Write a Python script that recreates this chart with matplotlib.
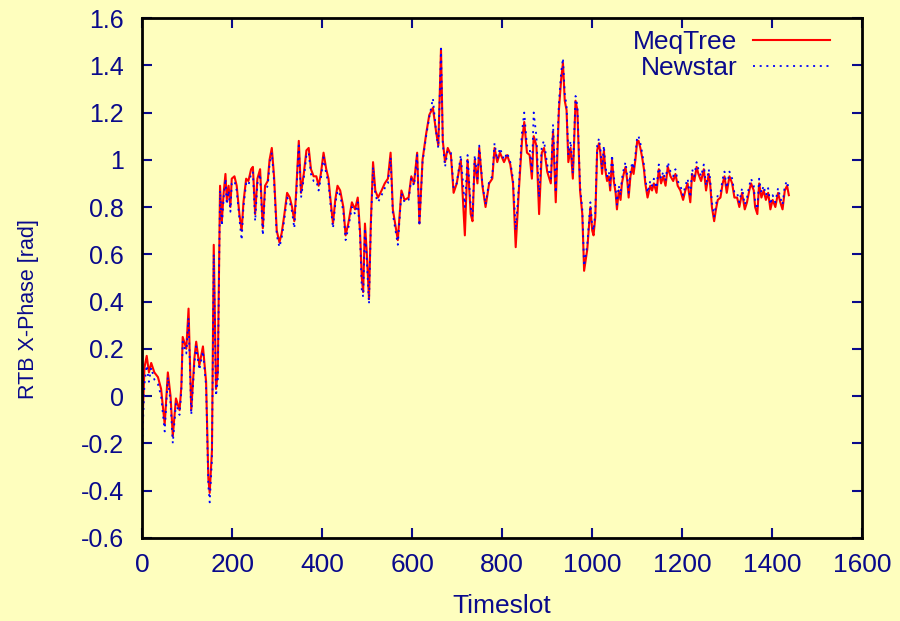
import matplotlib
matplotlib.use("Agg")
import matplotlib.pyplot as plt
from matplotlib.ticker import FormatStrFormatter

# values (timeslot, phase in rad)
timeslot = [0, 5, 10, 15, 20, 27, 35, 42, 50, 57, 63, 68, 75, 83, 87, 90, 98, 103, 109, 116,
            120, 127, 135, 142, 147, 150, 155, 159, 164, 168,
            173, 177, 181, 185, 188, 192, 196, 199, 205, 210, 216, 221, 225, 231, 236, 242, 246,
            251, 256, 262, 268, 273, 279, 283, 288, 293, 299, 305, 310, 316, 322, 328, 333, 338,
            342, 348, 353, 359, 365, 370, 375, 381, 387, 392, 397, 403, 409, 414, 419, 424, 429, 434,
            440, 447, 452, 458, 466, 473, 479, 484, 488, 491, 495, 499, 504, 508, 513, 518, 524,
            532, 539, 546, 552, 557, 562, 568, 576, 583, 592, 598, 604, 611, 616, 623, 631, 638,
            646, 653, 658, 664, 668, 673, 679, 686, 692, 699, 708, 717, 723, 730, 734, 739, 745,
            749, 756, 763, 771, 778, 783, 789, 795, 804, 811, 818, 824, 830, 837, 844, 849, 855,
            861, 866, 870, 876, 882, 888, 893, 900, 908, 913, 919, 926, 931, 935, 939, 943, 947,
            952, 957, 963, 967, 973, 978, 982, 989,
            996, 1000, 1003, 1007, 1011, 1015, 1018, 1022, 1026, 1029, 1033, 1037, 1040, 1044,
            1048, 1052, 1055, 1059, 1063, 1066, 1070, 1074, 1078, 1081, 1085, 1089, 1092, 1096,
            1100, 1103, 1107, 1111, 1115, 1118, 1123, 1129, 1133, 1137, 1143, 1148, 1153, 1158,
            1163, 1168, 1174, 1180, 1185, 1190, 1196, 1202, 1207, 1212, 1218, 1222, 1227, 1232,
            1236, 1242, 1248, 1253, 1259, 1262, 1266, 1271, 1275, 1279, 1285, 1290, 1294, 1299,
            1305, 1311, 1316, 1322, 1327, 1333, 1339, 1344, 1349, 1353, 1359, 1362, 1367, 1371,
            1376, 1381, 1386, 1391, 1396, 1401, 1407, 1413, 1418, 1423, 1428, 1433, 1437]

meqtree = [-0.15, 0.12, 0.17, 0.1, 0.14, 0.1, 0.08, 0.03, -0.12, 0.1, 0.0, -0.17, -0.01, -0.06, 0.04,
           0.25, 0.2, 0.37, -0.06, 0.16, 0.23, 0.13, 0.21, 0.06, -0.35, -0.41, -0.23, 0.64, 0.03, 0.1,
           0.89, 0.74, 0.86, 0.94, 0.83, 0.89, 0.8, 0.92, 0.93, 0.89, 0.77, 0.7, 0.82, 0.92, 0.91,
           0.96, 0.97, 0.77, 0.92, 0.96, 0.71, 0.89, 0.91, 1.0, 1.05, 0.93, 0.7, 0.65, 0.69, 0.77,
           0.86, 0.84, 0.8, 0.74, 0.86, 1.08, 0.86, 0.94, 1.04, 1.05, 0.96, 0.93, 0.93, 0.89, 0.94,
           1.03, 0.96, 0.92, 0.82, 0.73, 0.83, 0.89,
           0.87, 0.8, 0.68, 0.73, 0.82, 0.79, 0.84, 0.7, 0.5, 0.44, 0.73, 0.61, 0.41, 0.73, 0.99,
           0.87, 0.84, 0.87, 0.9, 0.92, 1.03, 0.79, 0.73, 0.66, 0.87, 0.83, 0.84, 0.93, 0.9, 1.03,
           0.73, 1.0, 1.11, 1.19, 1.22, 1.12, 1.06, 1.47, 1.08, 0.99, 1.05, 1.02, 0.86, 0.9, 1.0,
           0.68, 1.0, 0.77, 0.74, 1.0, 0.9, 1.05, 0.89, 0.8, 0.9, 0.92, 1.05, 0.99, 1.03, 0.99,
           1.02, 0.98, 0.9, 0.63, 0.87, 1.08, 1.16, 1.03, 1.02, 0.92, 1.1, 1.06, 0.77, 1.03, 1.05,
           0.95, 0.9, 1.12, 0.82, 1.21, 1.34, 1.41, 1.25, 1.21, 0.99, 1.05, 0.92, 1.25, 1.21, 0.87,
           0.77, 0.53, 0.62,
           0.8, 0.7, 0.68, 0.76, 1.04, 1.07, 1.03, 0.94, 1.04, 0.96, 0.91, 0.93, 0.87, 1.0, 0.91,
           0.86, 0.79, 0.87, 0.83, 0.9, 0.94, 0.97, 0.91, 0.84, 0.93, 0.97, 0.94, 1.0, 1.08, 1.08,
           1.05, 1.01, 0.96, 0.9, 0.84, 0.89, 0.87, 0.9, 0.86, 0.96, 0.9, 0.93, 0.89, 0.97, 0.93,
           0.91, 0.94, 0.89, 0.87, 0.83, 0.87, 0.9, 0.82, 0.94, 0.91, 0.97, 0.94, 0.91, 0.96, 0.87,
           0.94, 0.9, 0.8, 0.74, 0.79, 0.83, 0.84, 0.9, 0.93, 0.86, 0.93, 0.9, 0.84, 0.84, 0.8,
           0.86, 0.79, 0.82, 0.87, 0.9, 0.87, 0.8, 0.77, 0.9, 0.84, 0.87, 0.83, 0.86, 0.79, 0.83,
           0.8, 0.86, 0.82, 0.79, 0.87, 0.89, 0.85]

newstar = [-0.2, 0.05, 0.13, 0.06, 0.12, 0.07, 0.05, 0.0, -0.15, 0.08, -0.03, -0.2, -0.03, -0.08, 0.02,
           0.23, 0.18, 0.33, -0.08, 0.14, 0.21, 0.11, 0.19, 0.04, -0.38, -0.45, -0.27, 0.6, 0.0, 0.07,
           0.87, 0.72, 0.84, 0.92, 0.81, 0.87, 0.78, 0.9, 0.91, 0.87, 0.75, 0.66, 0.8, 0.9, 0.89,
           0.94, 0.95, 0.74, 0.9, 0.94, 0.68, 0.87, 0.89, 0.98, 1.03, 0.91, 0.68, 0.63, 0.67, 0.75,
           0.84, 0.82, 0.78, 0.71, 0.84, 1.06, 0.84, 0.92, 1.02, 1.03, 0.94, 0.91, 0.91, 0.87, 0.92,
           1.01, 0.94, 0.9, 0.8, 0.71, 0.81, 0.87,
           0.85, 0.78, 0.66, 0.71, 0.8, 0.77, 0.82, 0.68, 0.45, 0.42, 0.71, 0.58, 0.39, 0.71, 0.97,
           0.85, 0.82, 0.85, 0.88, 0.9, 1.01, 0.77, 0.71, 0.64, 0.86, 0.82, 0.83, 0.92, 0.89, 1.02,
           0.72, 0.99, 1.1, 1.18, 1.26, 1.12, 1.05, 1.47, 1.07, 0.97, 1.04, 1.03, 0.88, 0.9, 1.02,
           0.8, 1.02, 0.8, 0.76, 1.02, 0.92, 1.06, 0.9, 0.81, 0.91, 0.93, 1.07, 1.0, 1.05, 1.0,
           1.03, 0.99, 0.92, 0.7, 0.89, 1.12, 1.2, 1.06, 1.05, 0.95, 1.2, 1.1, 0.84, 1.06, 1.08,
           0.98, 0.92, 1.15, 0.86, 1.24, 1.37, 1.43, 1.28, 1.23, 1.02, 1.08, 0.94, 1.27, 1.23, 0.89,
           0.79, 0.55, 0.64,
           0.82, 0.72, 0.7, 0.78, 1.06, 1.09, 1.05, 0.96, 1.06, 0.98, 0.93, 0.95, 0.89, 1.02, 0.93,
           0.88, 0.81, 0.89, 0.85, 0.92, 0.96, 0.99, 0.93, 0.86, 0.95, 0.99, 0.96, 1.02, 1.1, 1.1,
           1.07, 1.03, 0.98, 0.92, 0.86, 0.91, 0.89, 0.92, 0.88, 0.98, 0.92, 0.95, 0.91, 0.99, 0.95,
           0.93, 0.96, 0.91, 0.89, 0.85, 0.89, 0.92, 0.84, 0.96, 0.93, 0.99, 0.96, 0.93, 0.98, 0.89,
           0.96, 0.92, 0.82, 0.76, 0.81, 0.85, 0.86, 0.92, 0.95, 0.88, 0.95, 0.92, 0.86, 0.86, 0.82,
           0.88, 0.81, 0.84, 0.89, 0.92, 0.89, 0.82, 0.79, 0.92, 0.86, 0.89, 0.85, 0.88, 0.81, 0.85,
           0.82, 0.88, 0.84, 0.81, 0.89, 0.91, 0.87]

x_ticks = [0, 200, 400, 600, 800, 1000, 1200, 1400, 1600]
y_ticks = [-0.6, -0.4, -0.2, 0, 0.2, 0.4, 0.6, 0.8, 1, 1.2, 1.4, 1.6]

bg = '#fefebe'
navy = '#0a0a8c'

plt.rcParams['font.family'] = ['Liberation Sans', 'DejaVu Sans']
plt.rcParams['axes.unicode_minus'] = False

fig = plt.figure(figsize=(9, 6.21), dpi=100, facecolor=bg)
ax = fig.add_axes([0.158, 0.134, 0.8, 0.837], facecolor=bg)

ax.plot(timeslot, meqtree, color='#ff0000', lw=1.5, label='MeqTree')
ax.plot(timeslot, newstar, color='#0000ff', lw=1.3, linestyle=(0, (1.1, 2.6)), label='Newstar')

ax.set_xlim(0, 1600)
ax.set_ylim(-0.6, 1.6)
ax.set_xticks(x_ticks)
ax.set_yticks(y_ticks)
ax.yaxis.set_major_formatter(FormatStrFormatter('%g'))

ax.tick_params(direction='in', length=7, width=1.5, color=navy, labelcolor=navy,
               top=True, right=True)
ax.tick_params(axis='x', labelsize=19, pad=11)
ax.tick_params(axis='y', labelsize=18, pad=13)
for s in ax.spines.values():
    s.set_linewidth(2)
    s.set_color('black')

ax.set_xlabel('Timeslot', color=navy, fontsize=19)
ax.set_ylabel('RTB X-Phase [rad]', color=navy, fontsize=15.5)
ax.xaxis.set_label_coords(0.5, -0.108)
ax.yaxis.set_label_coords(-0.143, 0.44)

leg = ax.legend(loc='upper right', bbox_to_anchor=(0.955, 0.976), frameon=False,
                markerfirst=False, fontsize=19, handlelength=2.9, labelspacing=0.05,
                borderaxespad=0, borderpad=0, handletextpad=0.6)
for t in leg.get_texts():
    t.set_color(navy)

fig.savefig('out.png', dpi=100, facecolor=bg)
